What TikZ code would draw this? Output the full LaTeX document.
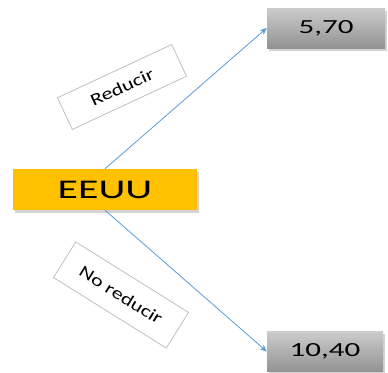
\documentclass[tikz,border=0pt]{standalone}
\usepackage{fontspec}
\setmainfont{Carlito}
\newfontfamily\widefont[FakeStretch=1.55]{Carlito}
\newfontfamily\tagfont[FakeStretch=1.3]{Carlito}
\usetikzlibrary{arrows.meta,shadows}
\definecolor{gold}{HTML}{FFC000}
\definecolor{linkblue}{HTML}{5B9BD5}
\definecolor{frame}{HTML}{BFBFBF}
\tikzset{
  srcbox/.style={rectangle, fill=gold, minimum width=184pt, minimum height=41pt, inner sep=0pt,
    drop shadow={opacity=0.35, shadow xshift=2pt, shadow yshift=-2.5pt}},
  resbox/.style={rectangle, top color=gray!40, bottom color=gray!85!white, minimum width=118pt,
    minimum height=40pt, inner sep=0pt,
    drop shadow={opacity=0.35, shadow xshift=2pt, shadow yshift=-2.5pt}},
  tagbox/.style={rectangle, draw=frame, fill=white, line width=0.8pt, inner sep=0pt},
  link/.style={draw=linkblue, line width=0.8pt, -{Stealth[length=7pt,width=6pt]}}
}
\begin{document}
\begin{tikzpicture}[x=1pt,y=-1pt]
  \useasboundingbox (0,0) rectangle (388,372);
  % decision node and outcomes
  \node[srcbox] (eeuu) at (105,189.5) {\widefont\fontsize{27}{30}\selectfont EEUU};
  \node[resbox] (hi) at (326,28) {\widefont\fontsize{20}{24}\selectfont 5,70};
  \node[resbox, minimum width=116pt] (lo) at (325,351.5) {\widefont\fontsize{20}{24}\selectfont 10,40};
  % branches
  \draw[link] (eeuu.north) -- (hi.west);
  \draw[link] (eeuu.south) -- (lo.west);
  % branch labels
  \node[tagbox, minimum width=126pt, minimum height=35pt, rotate=25] (t1) at (122,87)
    {\tagfont\fontsize{17}{20}\selectfont Reducir};
  \node[tagbox, minimum width=133pt, minimum height=42pt, rotate=-32] (t2) at (121,295)
    {\tagfont\fontsize{17}{20}\selectfont No reducir};
\end{tikzpicture}
\end{document}
